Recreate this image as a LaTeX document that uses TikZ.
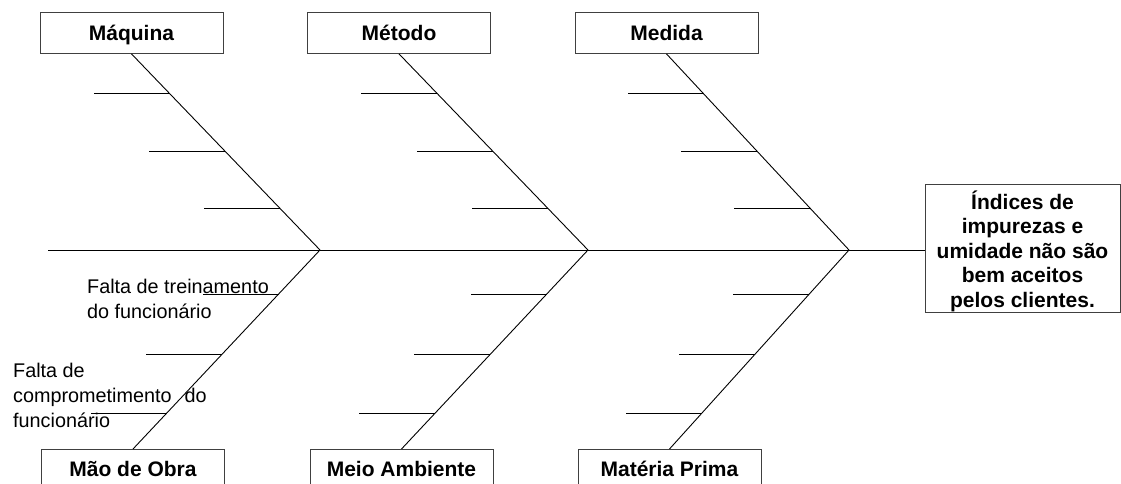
\documentclass[tikz,border=0pt]{standalone}
\usepackage{fontspec}
\setmainfont{Liberation Sans}
\usetikzlibrary{calc}
\begin{document}
\begin{tikzpicture}[x=1pt,y=-1pt,
  bone/.style={draw=black,line width=0.9pt},
  rib/.style={draw=black,line width=0.9pt},
  catbox/.style={draw=black!75,line width=0.9pt,inner sep=0pt,minimum width=183pt,
    font=\fontsize{21}{24}\bfseries\selectfont,anchor=north},
  topbox/.style={catbox,text height=28pt,text depth=13pt},
  botbox/.style={catbox,text height=27pt,text depth=24pt},
  effect/.style={draw=black!75,line width=0.9pt,inner sep=0pt,minimum width=195pt,
    text height=123pt,text depth=5pt,align=center,anchor=north,
    font=\fontsize{21}{24.5}\bfseries\selectfont},
  cause/.style={inner sep=0pt,anchor=base west,align=left,
    font=\fontsize{19.8}{25}\selectfont}]
\useasboundingbox (0,0) rectangle (1121,484);
\clip (0,0) rectangle (1121,484);

% category boxes
\node[topbox] (maq) at (131.5,12) {Máquina};
\node[topbox] (met) at (399,12) {Método};
\node[topbox] (med) at (666.5,12) {Medida};
\node[botbox] (mao) at (133,449) {Mão de Obra};
\node[botbox] (mei) at (401.5,449) {Meio Ambiente};
\node[botbox] (mat) at (669.5,449) {Matéria Prima};

% effect
\node[effect] (eff) at (1022.5,184) {Índices de\\impurezas e\\umidade não são\\bem aceitos\\pelos clientes.};

% spine and junctions
\coordinate (tail) at (48,250);
\coordinate (J1) at (320,250);
\coordinate (J2) at (588,250);
\coordinate (J3) at (849,250);
\draw[bone] (tail) -- (eff.west |- tail);

% main bones
\foreach \b/\j in {maq/J1,met/J2,med/J3}{
  \draw[bone] (\b.south) -- (\j);
  \foreach \t in {0.203,0.497,0.787}
    \draw[rib] ($(\b.south)!\t!(\j)$) -- ++(-76,0);
}
\foreach \b/\j in {mao/J1,mei/J2,mat/J3}{
  \draw[bone] (\j) -- (\b.north);
  \foreach \t in {0.221,0.523,0.819}
    \draw[rib] ($(\j)!\t!(\b.north)$) -- ++(-76,0);
}

% causes (anchored at the baseline of the last line)
\node[cause] (c1) at (87,318) {Falta de treinamento\\do funcionário};
\node[cause] (c2) at (13,427) {Falta de\\comprometimento\hspace{13pt}do\\funcionário};
\end{tikzpicture}
\end{document}
